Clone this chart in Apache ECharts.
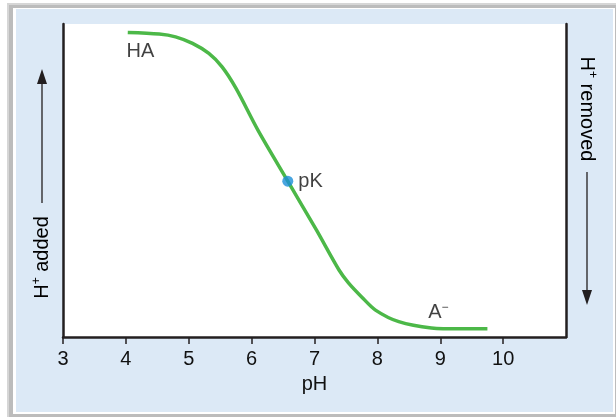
<!DOCTYPE html>
<html>
<head>
<meta charset="utf-8">
<script src="https://cdn.jsdelivr.net/npm/echarts@6/dist/echarts.min.js"></script>
<style>
html,body{margin:0;padding:0;background:#fff;}
#chart{width:616px;height:417px;}
</style>
</head>
<body>
<div id="chart"></div>
<script>
// Data
const phValues = [4.03, 4.53, 4.79, 5.06, 5.32, 5.53, 5.75, 6.10, 6.575, 7.03, 7.39, 7.54, 7.75, 7.97, 8.34, 8.86, 9.33, 9.75];
const protonated = [97.3, 96.8, 95.9, 93.8, 90.6, 86.3, 79.5, 66.1, 49.8, 34.2, 21.4, 17.3, 12.8, 8.6, 4.9, 2.9, 2.6, 2.6];
const pkPoint = [6.575, 49.8];
const xTicks = [3, 4, 5, 6, 7, 8, 9, 10];
const annotationNames = ['HA', 'A−'];
const annotationX = [4.23, 8.97];
const annotationY = [91.2, 7.9];

const FONT = "'Liberation Sans', Arial, Helvetica, sans-serif";
const TXT = '#111111';
const FS = 20;

const chart = echarts.init(document.getElementById('chart'), null, {renderer: 'canvas'});

const rich = {
  a: {fontFamily: FONT, fontSize: FS, color: TXT},
  s: {fontFamily: FONT, fontSize: 12, color: TXT, padding: [0, 0, 10, 0]}
};

const option = {
  animation: false,
  backgroundColor: 'transparent',
  graphic: [
    {type: 'rect', z: -10, shape: {x: 7, y: 3, width: 609, height: 414}, style: {fill: '#d6d6d6'}},
    {type: 'rect', z: -10, shape: {x: 9, y: 5, width: 607, height: 412}, style: {fill: '#bcbcbc'}},
    {type: 'rect', z: -10, shape: {x: 13, y: 8, width: 602, height: 406}, style: {fill: '#ffffff'}},
    {type: 'rect', z: -10, shape: {x: 16, y: 9, width: 597, height: 403}, style: {fill: '#dce9f6'}},
    // left arrow
    {type: 'line', shape: {x1: 42, y1: 203, x2: 42, y2: 80}, style: {stroke: '#231f20', lineWidth: 1.3}},
    {type: 'polygon', shape: {points: [[42, 69], [37, 84], [47, 84]]}, style: {fill: '#231f20'}},
    {type: 'text', x: 42, y: 257.5, rotation: Math.PI / 2,
      style: {text: '{a|H}{s|+}{a| added}', rich: rich, align: 'center', verticalAlign: 'middle'}},
    // right arrow
    {type: 'line', shape: {x1: 587, y1: 172, x2: 587, y2: 295}, style: {stroke: '#231f20', lineWidth: 1.3}},
    {type: 'polygon', shape: {points: [[587, 305], [582, 290], [592, 290]]}, style: {fill: '#231f20'}},
    {type: 'text', x: 587, y: 109, rotation: -Math.PI / 2,
      style: {text: '{a|H}{s|+}{a| removed}', rich: rich, align: 'center', verticalAlign: 'middle'}}
  ],
  grid: {left: 63, right: 50, top: 24, bottom: 80, show: true, backgroundColor: '#ffffff', borderWidth: 0},
  xAxis: {
    type: 'value', min: 3, max: 11, interval: 1,
    name: 'pH', nameLocation: 'middle', nameGap: 37,
    nameTextStyle: {fontFamily: FONT, fontSize: FS, color: TXT},
    axisLine: {show: true, onZero: false, lineStyle: {color: '#231f20', width: 2.5}},
    axisTick: {show: true, length: 7, customValues: xTicks, lineStyle: {color: '#231f20', width: 1.5}},
    axisLabel: {fontFamily: FONT, fontSize: FS, color: TXT, margin: 12, customValues: xTicks},
    splitLine: {show: false}
  },
  yAxis: [
    {type: 'value', min: 0, max: 100, position: 'left',
      axisLine: {show: true, onZero: false, lineStyle: {color: '#231f20', width: 2.5}},
      axisTick: {show: false}, axisLabel: {show: false}, splitLine: {show: false}},
    {type: 'value', min: 0, max: 100, position: 'right',
      axisLine: {show: true, onZero: false, lineStyle: {color: '#231f20', width: 2.5}},
      axisTick: {show: false}, axisLabel: {show: false}, splitLine: {show: false}}
  ],
  series: [
    {
      type: 'line', name: 'titration',
      data: phValues.map((x, i) => [x, protonated[i]]),
      smooth: 0.3, showSymbol: false, symbol: 'none',
      lineStyle: {color: '#4cb848', width: 3.5}, z: 3
    },
    {
      type: 'scatter', name: 'pK',
      data: [pkPoint], symbolSize: 11,
      itemStyle: {color: '#1b8fd8'}, z: 5,
      label: {show: true, position: 'right', distance: 5, formatter: 'pK',
        fontFamily: FONT, fontSize: FS, color: TXT}
    },
    {
      type: 'scatter', name: 'labels', symbolSize: 0, z: 6,
      data: annotationNames.map((n, i) => ({name: n, value: [annotationX[i], annotationY[i]]})),
      label: {show: true, position: 'inside', color: TXT, fontFamily: FONT, fontSize: FS,
        formatter: p => p.name === 'A−' ? '{a|A}{s|−}' : '{a|' + p.name + '}',
        rich: rich}
    }
  ]
};
chart.setOption(option);
</script>
</body>
</html>
